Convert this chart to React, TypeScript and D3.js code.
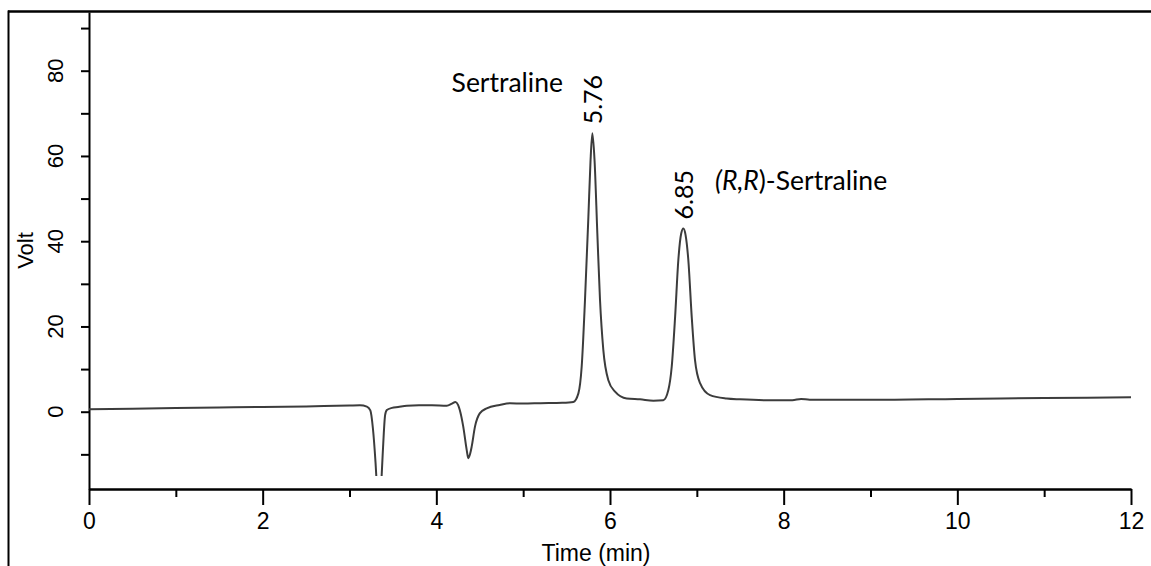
import React, {useRef, useEffect} from 'react'
import * as d3 from 'd3'

// chromatogram trace (time in min, signal in Volt)
const timeMin: number[] = [
  0, 0.5, 1.0, 1.5, 2.0, 2.5, 3.0, 3.12, 3.2, 3.24, 3.27, 3.3, 3.32, 3.34, 3.36, 3.375, 3.395, 3.41, 3.43,
  3.49, 3.56, 3.66, 3.8, 3.95, 4.12, 4.18, 4.22, 4.25, 4.27, 4.31, 4.35, 4.368, 4.39, 4.407, 4.445, 4.5,
  4.58, 4.73, 4.85, 5.0, 5.2, 5.45, 5.578, 5.636, 5.674, 5.712, 5.751, 5.775, 5.797, 5.822, 5.854, 5.885,
  5.923, 5.981, 6.058, 6.193, 6.346, 6.5, 6.614, 6.672, 6.711, 6.75, 6.787, 6.82, 6.845, 6.87, 6.902,
  6.941, 6.979, 7.037, 7.152, 7.344, 7.497, 7.8, 8.1, 8.2, 8.3, 9.0, 10.0, 11.0, 12.0,
]
const signalVolt: number[] = [
  0.6, 0.7, 0.85, 1.0, 1.1, 1.25, 1.45, 1.5, 1.2, 0.3, -4, -12, -19, -24, -19, -13, -5, -0.8, 0.4,
  0.9, 1.1, 1.4, 1.5, 1.5, 1.4, 1.9, 2.3, 1.6, 0.4, -3.5, -9.0, -10.9, -9.8, -8.2, -3.5, -0.4,
  0.8, 1.6, 2.0, 1.9, 2.0, 2.1, 2.3, 4.3, 10.6, 26.2, 45.7, 58.5, 65.3, 59, 41.9, 26.2,
  14.5, 7.4, 4.7, 3.1, 2.9, 2.6, 2.7, 5.1, 10.6, 22.3, 35.6, 41.8, 43.0, 41.5, 35.6,
  22.3, 12.1, 6.7, 3.9, 3.1, 2.9, 2.7, 2.7, 3.0, 2.8, 2.8, 3.0, 3.2, 3.4,
]

const xMajorTicks = [0, 2, 4, 6, 8, 10, 12]
const xMinorTicks = [1, 3, 5, 7, 9, 11]
const yTicks = [-10, 0, 10, 20, 30, 40, 50, 60, 70, 80, 90]
const yLabelTicks = [0, 20, 40, 60, 80]

// peak retention labels
const peakLabels = ['5.76', '6.85']
const peakApexTime = [5.797, 6.845]
const peakApexVolt = [65.3, 43.0]

// compound names (first one is right-aligned, second left-aligned)
const compoundTime = [5.459, 7.21]
const compoundVolt = [75.0, 52.0]
const compoundAnchor = ['end', 'start']

const signalFloor = -15.1

function Chromatogram() {
  const ref: any = useRef<SVGSVGElement>(null)

  useEffect(() => {
    const svg = d3.select(ref.current)
    svg.selectAll('*').remove()

    const xScale = d3.scaleLinear().domain([0, 12]).range([89, 1131])
    const yScale = d3.scaleLinear().domain([-18.13, 93.77]).range([489, 12])

    // frame (top and left only)
    svg.append('line').attr('x1', 8).attr('x2', 1151).attr('y1', 11.5).attr('y2', 11.5)
      .attr('stroke', '#000').attr('stroke-width', 2.5)
    svg.append('line').attr('x1', 8.5).attr('x2', 8.5).attr('y1', 10.5).attr('y2', 566)
      .attr('stroke', '#000').attr('stroke-width', 2)

    const fontAxis = '"Liberation Sans", Arial, sans-serif'

    // x axis: minor + major ticks
    const xMinor: any = d3.axisBottom(xScale).tickValues(xMinorTicks).tickSize(8).tickSizeOuter(0).tickFormat(() => '')
    const xMajor: any = d3.axisBottom(xScale).tickValues(xMajorTicks).tickSize(16).tickSizeOuter(0)
      .tickPadding(8).tickFormat((d: any) => String(d))
    svg.append('g').attr('transform', 'translate(0,489)').call(xMinor)
    svg.append('g').attr('transform', 'translate(0,489)').call(xMajor)

    // y axis
    const yAxis: any = d3.axisLeft(yScale).tickValues(yTicks).tickSize(8).tickSizeOuter(0).tickFormat(() => '')
    svg.append('g').attr('transform', 'translate(89,0)').call(yAxis)

    svg.selectAll('.domain, .tick line').attr('stroke', '#000').attr('stroke-width', 2)
    svg.selectAll('.tick text').attr('font-family', fontAxis).attr('font-size', 23).attr('fill', '#000')

    svg.selectAll('.ylab')
      .data(yLabelTicks)
      .join('text')
      .attr('class', 'ylab')
      .attr('transform', (d) => `translate(63,${yScale(d)}) rotate(-90)`)
      .attr('text-anchor', 'middle')
      .attr('font-family', fontAxis)
      .attr('font-size', 22)
      .text((d) => String(d))

    svg.append('text')
      .attr('transform', `translate(33,${(yScale.range()[0] + yScale.range()[1]) / 2}) rotate(-90)`)
      .attr('text-anchor', 'middle')
      .attr('font-family', fontAxis)
      .attr('font-size', 22)
      .text('Volt')

    svg.append('text')
      .attr('x', 596)
      .attr('y', 561)
      .attr('text-anchor', 'middle')
      .attr('font-family', fontAxis)
      .attr('font-size', 23)
      .text('Time (min)')

    // trace, clipped at the detector floor
    svg.append('clipPath').attr('id', 'plot-clip')
      .append('rect')
      .attr('x', xScale(0))
      .attr('y', yScale(93.77))
      .attr('width', xScale(12) - xScale(0))
      .attr('height', yScale(signalFloor) - yScale(93.77))

    const pts: [number, number][] = timeMin.map((t, i) => [t, signalVolt[i]])
    const line = d3.line<[number, number]>()
      .x((d) => xScale(d[0]))
      .y((d) => yScale(d[1]))
      .curve(d3.curveMonotoneX)

    svg.append('path')
      .datum(pts)
      .attr('clip-path', 'url(#plot-clip)')
      .attr('d', line)
      .attr('fill', 'none')
      .attr('stroke', '#3c3c3c')
      .attr('stroke-width', 2)

    const fontNote = 'Lato, "Open Sans", sans-serif'

    svg.selectAll('.peaklab')
      .data(peakLabels)
      .join('text')
      .attr('class', 'peaklab')
      .attr('transform', (d, i) => `translate(${xScale(peakApexTime[i]) + 10},${yScale(peakApexVolt[i]) - 9}) rotate(-90)`)
      .attr('font-family', fontNote)
      .attr('font-size', 25)
      .text((d) => d)

    const n1 = svg.append('text')
      .attr('x', xScale(compoundTime[0]))
      .attr('y', yScale(compoundVolt[0]))
      .attr('text-anchor', compoundAnchor[0])
      .attr('font-family', fontNote)
      .attr('font-size', 26.5)
    n1.text('Sertraline')

    const n2 = svg.append('text')
      .attr('x', xScale(compoundTime[1]))
      .attr('y', yScale(compoundVolt[1]))
      .attr('text-anchor', compoundAnchor[1])
      .attr('font-family', fontNote)
      .attr('font-size', 26.5)
    n2.append('tspan').attr('font-style', 'italic').text('(R,R')
    n2.append('tspan').text(')-Sertraline')
  }, [])

  return (
    <svg
      ref={ref}
      width={1151}
      height={566}
      style={{position: 'absolute', left: 0, top: 0, background: '#fff'}}
    />
  )
}

export default function App() {
  return <Chromatogram />
}
